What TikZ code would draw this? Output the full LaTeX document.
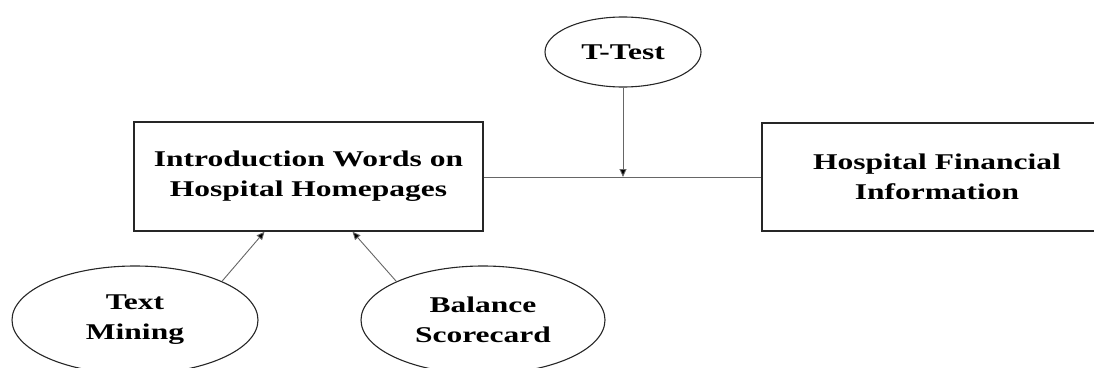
\documentclass[tikz,border=0pt]{standalone}
\usepackage{fontspec}
\setmainfont[FakeStretch=1.40]{Liberation Serif}
\usetikzlibrary{shapes.geometric,arrows.meta,calc}
\begin{document}
\begin{tikzpicture}[x=1pt,y=-1pt,
  every node/.style={font=\fontsize{22.5}{30}\selectfont\bfseries, align=center, inner sep=0pt},
  box/.style={draw=black!85, line width=1.4pt, rectangle, minimum width=349pt, minimum height=109pt},
  oval/.style={draw=black!85, line width=1.1pt, ellipse},
  conn/.style={draw=black!60, line width=0.9pt},
  arr/.style={conn, -{Triangle[length=8pt,width=7pt,fill=black]}}]
\useasboundingbox (0,0) rectangle (1094,367);
\node[box] (intro) at (308.5,176.5) {Introduction Words on\\Hospital Homepages};
\node[box, minimum width=350pt, minimum height=108pt] (fin) at (937,177) {Hospital Financial\\Information};
\node[oval, minimum width=156pt, minimum height=70pt] (ttest) at (623,52) {T-Test};
\node[oval, minimum width=246pt, minimum height=108pt] (tm) at (135,320) {Text\\Mining};
\node[oval, minimum width=244pt, minimum height=108pt] (bs) at (483,320) {Balance\\Scorecard};
\coordinate (mid) at (623,177);
\draw[conn] (intro.east |- mid) -- (fin.west |- mid);
\draw[arr] (ttest.south) -- (mid);
\draw[arr] (tm.24) -- ([xshift=-44pt]intro.south);
\draw[arr] (bs.156) -- ([xshift=44pt]intro.south);
\end{tikzpicture}
\end{document}
